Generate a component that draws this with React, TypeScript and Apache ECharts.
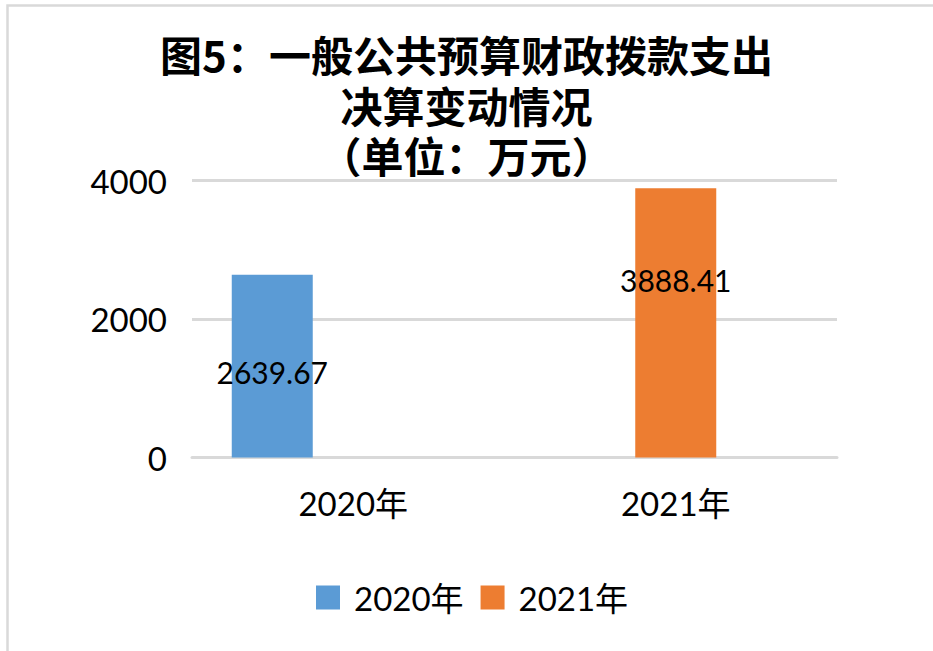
import React, { useEffect, useRef } from "react";
import * as echarts from "echarts";

const titleLines = ["图5：一般公共预算财政拨款支出", "决算变动情况", "（单位：万元）"];
const categories = ["2020年", "2021年"];
const seriesNames = ["2020年", "2021年"];
const values2020 = [2639.67, null];
const values2021 = [null, 3888.41];
const spacerValues = [null, null];
const yTicks = { min: 0, max: 4000, interval: 2000 };
const colors = ["#5B9BD5", "#ED7D31"];

const NUM_FONT = "Lato, 'Noto Sans CJK SC', sans-serif";
const titleTops = [29, 80, 130];

export default function App() {
  const ref = useRef<HTMLDivElement>(null);
  useEffect(() => {
    if (!ref.current) return;
    const chart = echarts.init(ref.current, undefined, { renderer: "svg" });
    chart.setOption({
      animation: false,
      backgroundColor: "#ffffff",
      title: titleLines.map((t, i) => ({
        text: t,
        left: "center",
        top: titleTops[i],
        padding: 0,
        textStyle: {
          fontFamily: "'Noto Sans CJK SC', sans-serif",
          fontWeight: "bold",
          fontSize: 42,
          lineHeight: 48,
          color: "#000000",
        },
      })),
      graphic: [
        {
          type: "rect",
          shape: { x: 7.5, y: 5.5, width: 1200, height: 1200 },
          style: { fill: "none", stroke: "#d9d9d9", lineWidth: 2.5 },
          silent: true,
          z: -1,
        },
      ],
      legend: {
        data: seriesNames,
        left: 311,
        top: 576,
        itemWidth: 24,
        itemHeight: 24,
        itemGap: 17,
        icon: "rect",
        textStyle: {
          fontFamily: NUM_FONT,
          fontSize: 33,
          color: "#000000",
          padding: [0, 0, 0, 9],
        },
      },
      grid: { left: 192, right: 96, top: 180.5, bottom: 193.5 },
      xAxis: {
        type: "category",
        data: categories,
        axisLine: { show: true, lineStyle: { color: "#d9d9d9", width: 3 } },
        axisTick: { show: false },
        axisLabel: {
          fontFamily: NUM_FONT,
          fontSize: 33,
          color: "#000000",
          margin: 29,
        },
      },
      yAxis: {
        type: "value",
        min: yTicks.min,
        max: yTicks.max,
        interval: yTicks.interval,
        axisLine: { show: false },
        axisTick: { show: false },
        splitLine: { lineStyle: { color: "#d9d9d9", width: 3 } },
        axisLabel: {
          fontFamily: NUM_FONT,
          fontSize: 33,
          color: "#000000",
          margin: 25,
          formatter: (v: number) => String(v),
        },
      },
      series: [
        {
          name: seriesNames[0],
          type: "bar",
          data: values2020,
          barWidth: 81,
          barGap: 0,
          itemStyle: { color: colors[0] },
          label: {
            show: true,
            position: ["50%", "53%"],
            align: "center",
            verticalAlign: "middle",
            fontFamily: NUM_FONT,
            fontSize: 30,
            color: "#000000",
          },
        },
        {
          name: seriesNames[1],
          type: "bar",
          data: values2021,
          barWidth: 81,
          barGap: 0,
          itemStyle: { color: colors[1] },
          label: {
            show: true,
            position: ["50%", "34%"],
            align: "center",
            verticalAlign: "middle",
            fontFamily: NUM_FONT,
            fontSize: 30,
            color: "#000000",
          },
        },
        {
          name: "spacer",
          type: "bar",
          data: spacerValues,
          barWidth: 81,
          barGap: 0,
          silent: true,
        },
      ],
    });
    return () => chart.dispose();
  }, []);
  return (
    <div
      ref={ref}
      style={{ position: "fixed", left: 0, top: 0, width: 933, height: 651, background: "#fff" }}
    />
  );
}
